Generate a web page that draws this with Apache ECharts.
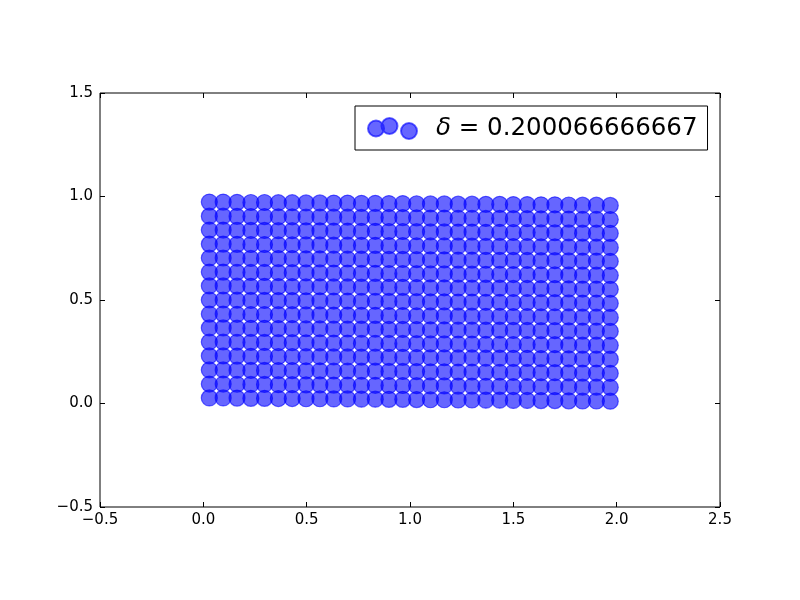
<!DOCTYPE html>
<html>
<head>
<meta charset="utf-8">
<script src="https://cdn.jsdelivr.net/npm/echarts@6/dist/echarts.min.js"></script>
<style>html,body{margin:0;padding:0;background:#fff}#c{width:800px;height:600px}</style>
</head>
<body>
<div id="c"></div>
<script>
// Column x positions
var colX = [0.029, 0.096, 0.163, 0.230, 0.296, 0.363, 0.430, 0.497, 0.564, 0.631,
            0.698, 0.765, 0.832, 0.898, 0.965, 1.032, 1.099, 1.166, 1.233, 1.300,
            1.367, 1.434, 1.500, 1.567, 1.634, 1.701, 1.768, 1.835, 1.902, 1.969];
// Row y positions at the left edge
var rowY = [0.027, 0.094, 0.162, 0.230, 0.297, 0.365, 0.432, 0.500, 0.568, 0.635,
            0.703, 0.770, 0.838, 0.905, 0.973];
// Downward drift of each column
var colShift = [0, 0, -0.001, -0.002, -0.002, -0.003, -0.003, -0.004, -0.004, -0.005,
                -0.005, -0.006, -0.006, -0.007, -0.007, -0.008, -0.009, -0.009, -0.010, -0.010,
                -0.011, -0.011, -0.012, -0.012, -0.013, -0.013, -0.014, -0.015, -0.015, -0.016];
var xTicks = [-0.5, 0.0, 0.5, 1.0, 1.5, 2.0, 2.5];
var yTicks = [-0.5, 0.0, 0.5, 1.0, 1.5];
var seriesName = '\u03b4 = 0.200066666667';

var points = [];
for (var c = 0; c < colX.length; c++) {
  for (var r = 0; r < rowY.length; r++) {
    points.push([colX[c], rowY[r] + colShift[c]]);
  }
}

function fmt(v) {
  var s = v.toFixed(1);
  return s.replace('-', '\u2212');
}

var font = 'DejaVu Sans';
var chart = echarts.init(document.getElementById('c'), null, {renderer: 'canvas'});
var legendIcon = 'path://M0,10.5a8,8 0 1,0 16,0a8,8 0 1,0 -16,0z' +
  'M13.5,8a8,8 0 1,0 16,0a8,8 0 1,0 -16,0z' +
  'M33,13a8,8 0 1,0 16,0a8,8 0 1,0 -16,0z';

function tickAxis(pos, showLabel, margin) {
  return {
    type: 'value', interval: 0.5, position: pos,
    axisLine: {show: false, onZero: false},
    axisTick: {show: true, inside: true, length: 5, lineStyle: {color: '#000', width: 1}},
    splitLine: {show: false},
    axisLabel: showLabel ? {formatter: fmt, color: '#000', fontFamily: font, fontSize: 15, margin: margin} : {show: false}
  };
}
var xb = tickAxis('bottom', true, 6), xt = tickAxis('top', false);
var yl = tickAxis('left', true, 7), yr = tickAxis('right', false);
[xb, xt].forEach(function (a) { a.min = xTicks[0]; a.max = xTicks[xTicks.length - 1]; });
[yl, yr].forEach(function (a) { a.min = yTicks[0]; a.max = yTicks[yTicks.length - 1]; });

chart.setOption({
  animation: false,
  backgroundColor: '#fff',
  grid: {left: 100, right: 80, top: 93, bottom: 93, show: true, borderColor: '#000', borderWidth: 1, backgroundColor: 'transparent'},
  xAxis: [xb, xt],
  yAxis: [yl, yr],
  legend: {
    left: 355, top: 106,
    padding: [10, 10, 9, 12],
    backgroundColor: '#fff',
    borderColor: '#000', borderWidth: 1, borderRadius: 0,
    itemWidth: 49, itemHeight: 21,
    icon: legendIcon,
    data: [seriesName],
    formatter: function () { return '{d|\u03b4} = 0.200066666667'; },
    textStyle: {
      color: '#000', fontFamily: font, fontSize: 24.5, lineHeight: 24,
      rich: {d: {fontStyle: 'italic', fontFamily: font, fontSize: 24.5, color: '#000', padding: [0, 0, 0, 14]}}
    }
  },
  series: [{
    name: seriesName,
    type: 'scatter',
    xAxisIndex: 0, yAxisIndex: 0,
    symbol: 'circle',
    symbolSize: 16,
    data: points,
    itemStyle: {color: 'rgba(0,0,255,0.6)', borderColor: 'rgba(0,0,255,0.6)', borderWidth: 1.2, opacity: 1},
    emphasis: {disabled: true}
  }]
});
</script>
</body>
</html>
